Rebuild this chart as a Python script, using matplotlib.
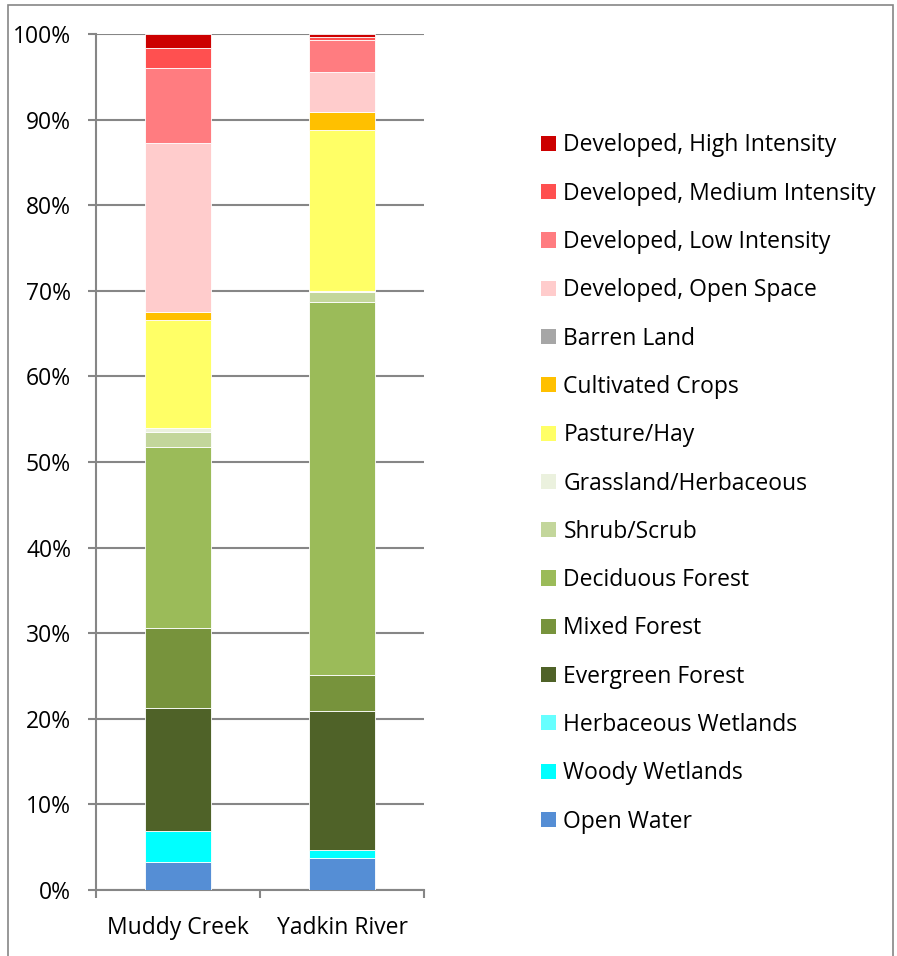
import matplotlib
matplotlib.use("Agg")
import matplotlib.pyplot as plt
import numpy as np
from matplotlib.patches import Patch, Rectangle

plt.rcParams["font.family"] = ["Open Sans", "DejaVu Sans"]

sites = ["Muddy Creek", "Yadkin River"]

# bottom-to-top stacking order
classes = [
    "Open Water",
    "Woody Wetlands",
    "Herbaceous Wetlands",
    "Evergreen Forest",
    "Mixed Forest",
    "Deciduous Forest",
    "Shrub/Scrub",
    "Grassland/Herbaceous",
    "Pasture/Hay",
    "Cultivated Crops",
    "Barren Land",
    "Developed, Open Space",
    "Developed, Low Intensity",
    "Developed, Medium Intensity",
    "Developed, High Intensity",
]
colors = [
    "#558ED5", "#00FFFF", "#66FFFF", "#4F6228", "#77933C", "#9BBB59",
    "#C3D69B", "#EBF1DE", "#FFFF66", "#FFC000", "#A6A6A6", "#FFCCCC",
    "#FF7C80", "#FF5050", "#CC0000",
]

muddy_creek = [3.3, 3.6, 0.02, 14.4, 9.3, 21.2, 1.7, 0.5, 12.6, 0.9, 0.05, 19.7, 8.8, 2.4, 1.6]
yadkin_river = [3.8, 0.9, 0.02, 16.25, 4.2, 43.6, 1.1, 0.2, 18.8, 2.1, 0.02, 4.6, 3.8, 0.4, 0.3]

data = np.array([muddy_creek, yadkin_river])
data = data / data.sum(axis=1, keepdims=True) * 100

W, H = 897, 956
fig = plt.figure(figsize=(W / 100, H / 100), dpi=100)
ax = fig.add_axes([96 / W, (H - 890) / H, 328 / W, 856 / H])

x = np.arange(len(sites))
bottom = np.zeros(len(sites))
handles = []
for i, name in enumerate(classes):
    ax.bar(x, data[:, i], 0.4, bottom=bottom, color=colors[i],
           edgecolor="#FFFFFF", linewidth=0.6, zorder=3)
    bottom += data[:, i]
    handles.append(Patch(facecolor=colors[i], edgecolor="none", label=name))

fs = 16.5
ax.set_xlim(-0.5, 1.5)
ax.set_ylim(0, 100)
ax.set_yticks(np.arange(0, 101, 10))
ax.set_yticklabels([f"{v}%" for v in range(0, 101, 10)], fontsize=fs)
ax.yaxis.grid(True, color="#868686", linewidth=1.5, zorder=0)
ax.set_xticks(x)
ax.set_xticklabels(sites, fontsize=fs)
ax.tick_params(axis="x", length=0, pad=19)
ax.tick_params(axis="y", length=6, width=1.5, color="#868686", pad=12)
# category separator ticks
ax.set_xticks([-0.5, 0.5, 1.5], minor=True)
ax.tick_params(axis="x", which="minor", length=6, width=1.5, color="#868686")
for side in ["top", "right"]:
    ax.spines[side].set_visible(False)
for side in ["left", "bottom"]:
    ax.spines[side].set_color("#868686")
    ax.spines[side].set_linewidth(1.5)

leg = fig.legend(handles=handles[::-1], loc="upper left",
                 bbox_to_anchor=(530 / W, 1 - 122 / H), frameon=False,
                 fontsize=fs, handlelength=0.64, handleheight=0.64,
                 handletextpad=0.32, labelspacing=1.06, borderpad=0)

fig.patches.append(Rectangle((8 / W, -0.05), 885 / W, 1.05 - 5 / H,
                             transform=fig.transFigure, fill=False,
                             edgecolor="#868686", linewidth=1.2))

fig.savefig("out.png", dpi=100)
